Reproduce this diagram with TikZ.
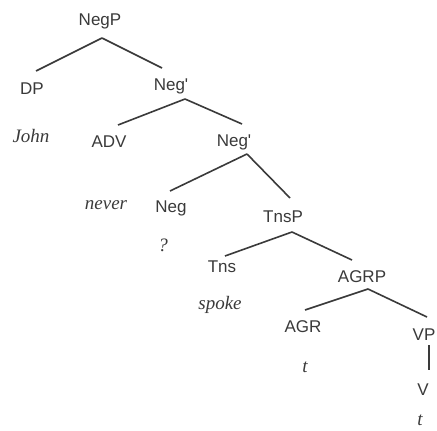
\documentclass[tikz,border=0pt]{standalone}
\usepackage{fontspec}
\setmainfont{Liberation Serif}
\setsansfont{Liberation Sans}
\definecolor{ink}{HTML}{3A3A3A}
\begin{document}
\begin{tikzpicture}[x=1pt,y=1pt,
  cat/.style={font=\sffamily\fontsize{17}{17}\selectfont, text=ink, anchor=base, inner sep=0pt},
  word/.style={font=\itshape\fontsize{19}{19}\selectfont, text=ink, anchor=base, inner sep=0pt},
  branch/.style={draw=ink, line width=1.6pt}]
\useasboundingbox[fill=white] (0,0) rectangle (437,-431);
% categories
\node[cat] (NegP) at (100,-26) {NegP};
\node[cat] (DP) at (32,-94) {DP};
\node[cat] (Neg1) at (171,-90) {Neg\textquotesingle};
\node[cat] (ADV) at (109,-147) {ADV};
\node[cat] (Neg2) at (234,-146) {Neg\textquotesingle};
\node[cat] (Neg) at (171,-212) {Neg};
\node[cat] (TnsP) at (283,-222) {TnsP};
\node[cat] (Tns) at (222,-272) {Tns};
\node[cat] (AGRP) at (362,-282) {AGRP};
\node[cat] (AGR) at (303,-332) {AGR};
\node[cat] (VP) at (424,-340) {VP};
\node[cat] (V) at (423,-395) {V};
% words
\node[word] (john) at (31,-142) {John};
\node[word] (never) at (106,-209) {never};
\node[word] (q) at (163,-251) {?};
\node[word] (spoke) at (220,-309) {spoke};
\node[word] (t1) at (305,-372) {t};
\node[word] (t2) at (420,-425) {t};
% branch end points, relative to the named nodes
\coordinate (aNegP) at ([xshift=2pt,yshift=-12pt]NegP.base);
\coordinate (eDP) at ([xshift=4pt,yshift=23pt]DP.base);
\coordinate (eNeg1) at ([xshift=-9pt,yshift=22pt]Neg1.base);
\coordinate (aNeg1) at ([xshift=14pt,yshift=-9pt]Neg1.base);
\coordinate (eADV) at ([xshift=9pt,yshift=22pt]ADV.base);
\coordinate (eNeg2) at ([xshift=8pt,yshift=22pt]Neg2.base);
\coordinate (aNeg2) at ([xshift=13pt,yshift=-8pt]Neg2.base);
\coordinate (eNeg) at ([xshift=-1pt,yshift=21pt]Neg.base);
\coordinate (eTnsP) at ([xshift=7pt,yshift=24pt]TnsP.base);
\coordinate (aTnsP) at ([xshift=9pt,yshift=-10pt]TnsP.base);
\coordinate (eTns) at ([xshift=3pt,yshift=16pt]Tns.base);
\coordinate (eAGRP) at ([xshift=-10pt,yshift=22pt]AGRP.base);
\coordinate (aAGRP) at ([xshift=6pt,yshift=-7pt]AGRP.base);
\coordinate (eAGR) at ([xshift=2pt,yshift=22pt]AGR.base);
\coordinate (eVP) at ([xshift=3pt,yshift=23pt]VP.base);
\coordinate (aVP) at ([xshift=5pt,yshift=-5pt]VP.base);
\coordinate (eV) at ([xshift=6pt,yshift=25pt]V.base);
% branches
\draw[branch] (aNegP) -- (eDP);
\draw[branch] (aNegP) -- (eNeg1);
\draw[branch] (aNeg1) -- (eADV);
\draw[branch] (aNeg1) -- (eNeg2);
\draw[branch] (aNeg2) -- (eNeg);
\draw[branch] (aNeg2) -- (eTnsP);
\draw[branch] (aTnsP) -- (eTns);
\draw[branch] (aTnsP) -- (eAGRP);
\draw[branch] (aAGRP) -- (eAGR);
\draw[branch] (aAGRP) -- (eVP);
\draw[branch] (aVP) -- (eV);
\end{tikzpicture}
\end{document}
